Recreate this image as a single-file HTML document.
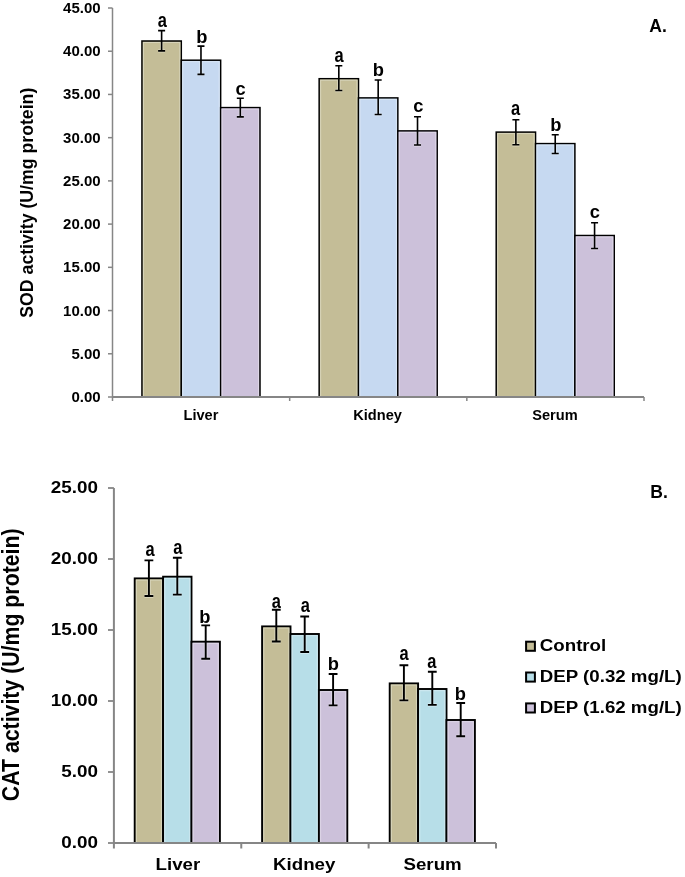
<!DOCTYPE html><html><head><meta charset="utf-8"><title>SOD and CAT activity</title><style>html,body{margin:0;padding:0;background:#fff;width:685px;height:877px;overflow:hidden}svg{display:block;will-change:transform}text{font-family:"Liberation Sans",sans-serif;font-weight:bold;fill:#000}</style></head><body>
<svg width="685" height="877" viewBox="0 0 685 877">
<rect width="685" height="877" fill="#fff"/>
<line x1="108" y1="397.00" x2="112.5" y2="397.00" stroke="#868686" stroke-width="1.5"/>
<text x="100.6" y="402.00" font-size="15" text-anchor="end">0.00</text>
<line x1="108" y1="353.78" x2="112.5" y2="353.78" stroke="#868686" stroke-width="1.5"/>
<text x="100.6" y="358.78" font-size="15" text-anchor="end">5.00</text>
<line x1="108" y1="310.56" x2="112.5" y2="310.56" stroke="#868686" stroke-width="1.5"/>
<text x="100.6" y="315.56" font-size="15" text-anchor="end">10.00</text>
<line x1="108" y1="267.33" x2="112.5" y2="267.33" stroke="#868686" stroke-width="1.5"/>
<text x="100.6" y="272.33" font-size="15" text-anchor="end">15.00</text>
<line x1="108" y1="224.11" x2="112.5" y2="224.11" stroke="#868686" stroke-width="1.5"/>
<text x="100.6" y="229.11" font-size="15" text-anchor="end">20.00</text>
<line x1="108" y1="180.89" x2="112.5" y2="180.89" stroke="#868686" stroke-width="1.5"/>
<text x="100.6" y="185.89" font-size="15" text-anchor="end">25.00</text>
<line x1="108" y1="137.67" x2="112.5" y2="137.67" stroke="#868686" stroke-width="1.5"/>
<text x="100.6" y="142.67" font-size="15" text-anchor="end">30.00</text>
<line x1="108" y1="94.44" x2="112.5" y2="94.44" stroke="#868686" stroke-width="1.5"/>
<text x="100.6" y="99.44" font-size="15" text-anchor="end">35.00</text>
<line x1="108" y1="51.22" x2="112.5" y2="51.22" stroke="#868686" stroke-width="1.5"/>
<text x="100.6" y="56.22" font-size="15" text-anchor="end">40.00</text>
<line x1="108" y1="8.00" x2="112.5" y2="8.00" stroke="#868686" stroke-width="1.5"/>
<text x="100.6" y="13.00" font-size="15" text-anchor="end">45.00</text>
<rect x="141.95" y="41.00" width="39.35" height="356.00" fill="#C4BD97" stroke="#000" stroke-width="1.5"/>
<rect x="143.45" y="42.50" width="36.35" height="354.50" fill="none" stroke="#D8D4BB" stroke-width="1"/>
<rect x="181.30" y="60.20" width="39.35" height="336.80" fill="#C6D9F1" stroke="#000" stroke-width="1.5"/>
<rect x="182.80" y="61.70" width="36.35" height="335.30" fill="none" stroke="#D9E6F5" stroke-width="1"/>
<rect x="220.65" y="107.60" width="39.35" height="289.40" fill="#CCC1DA" stroke="#000" stroke-width="1.5"/>
<rect x="222.15" y="109.10" width="36.35" height="287.90" fill="none" stroke="#DDD6E6" stroke-width="1"/>
<rect x="319.15" y="78.70" width="39.35" height="318.30" fill="#C4BD97" stroke="#000" stroke-width="1.5"/>
<rect x="320.65" y="80.20" width="36.35" height="316.80" fill="none" stroke="#D8D4BB" stroke-width="1"/>
<rect x="358.50" y="97.90" width="39.35" height="299.10" fill="#C6D9F1" stroke="#000" stroke-width="1.5"/>
<rect x="360.00" y="99.40" width="36.35" height="297.60" fill="none" stroke="#D9E6F5" stroke-width="1"/>
<rect x="397.85" y="130.90" width="39.35" height="266.10" fill="#CCC1DA" stroke="#000" stroke-width="1.5"/>
<rect x="399.35" y="132.40" width="36.35" height="264.60" fill="none" stroke="#DDD6E6" stroke-width="1"/>
<rect x="496.20" y="132.10" width="39.35" height="264.90" fill="#C4BD97" stroke="#000" stroke-width="1.5"/>
<rect x="497.70" y="133.60" width="36.35" height="263.40" fill="none" stroke="#D8D4BB" stroke-width="1"/>
<rect x="535.55" y="143.60" width="39.35" height="253.40" fill="#C6D9F1" stroke="#000" stroke-width="1.5"/>
<rect x="537.05" y="145.10" width="36.35" height="251.90" fill="none" stroke="#D9E6F5" stroke-width="1"/>
<rect x="574.90" y="235.50" width="39.35" height="161.50" fill="#CCC1DA" stroke="#000" stroke-width="1.5"/>
<rect x="576.40" y="237.00" width="36.35" height="160.00" fill="none" stroke="#DDD6E6" stroke-width="1"/>
<path d="M161.62 42.50V50.90M158.12 50.90H165.12" stroke="#D8D4BB" stroke-width="3.4" fill="none"/>
<path d="M161.62 30.60V50.90M158.12 30.60H165.12M158.12 50.90H165.12" stroke="#000" stroke-width="1.6" fill="none"/>
<path d="M200.97 61.70V74.40M197.47 74.40H204.47" stroke="#D9E6F5" stroke-width="3.4" fill="none"/>
<path d="M200.97 46.10V74.40M197.47 46.10H204.47M197.47 74.40H204.47" stroke="#000" stroke-width="1.6" fill="none"/>
<path d="M240.32 109.10V116.90M236.82 116.90H243.82" stroke="#DDD6E6" stroke-width="3.4" fill="none"/>
<path d="M240.32 98.20V116.90M236.82 98.20H243.82M236.82 116.90H243.82" stroke="#000" stroke-width="1.6" fill="none"/>
<path d="M338.82 80.20V90.50M335.32 90.50H342.32" stroke="#D8D4BB" stroke-width="3.4" fill="none"/>
<path d="M338.82 65.80V90.50M335.32 65.80H342.32M335.32 90.50H342.32" stroke="#000" stroke-width="1.6" fill="none"/>
<path d="M378.18 99.40V114.50M374.68 114.50H381.68" stroke="#D9E6F5" stroke-width="3.4" fill="none"/>
<path d="M378.18 80.00V114.50M374.68 80.00H381.68M374.68 114.50H381.68" stroke="#000" stroke-width="1.6" fill="none"/>
<path d="M417.52 132.40V145.00M414.02 145.00H421.02" stroke="#DDD6E6" stroke-width="3.4" fill="none"/>
<path d="M417.52 116.70V145.00M414.02 116.70H421.02M414.02 145.00H421.02" stroke="#000" stroke-width="1.6" fill="none"/>
<path d="M515.88 133.60V144.70M512.38 144.70H519.38" stroke="#D8D4BB" stroke-width="3.4" fill="none"/>
<path d="M515.88 119.70V144.70M512.38 119.70H519.38M512.38 144.70H519.38" stroke="#000" stroke-width="1.6" fill="none"/>
<path d="M555.22 145.10V153.50M551.72 153.50H558.72" stroke="#D9E6F5" stroke-width="3.4" fill="none"/>
<path d="M555.22 134.70V153.50M551.72 134.70H558.72M551.72 153.50H558.72" stroke="#000" stroke-width="1.6" fill="none"/>
<path d="M594.57 237.00V248.50M591.07 248.50H598.07" stroke="#DDD6E6" stroke-width="3.4" fill="none"/>
<path d="M594.57 222.80V248.50M591.07 222.80H598.07M591.07 248.50H598.07" stroke="#000" stroke-width="1.6" fill="none"/>
<path d="M112.5 8V401" stroke="#868686" stroke-width="1.5" fill="none"/>
<path d="M112.5 397H644" stroke="#868686" stroke-width="1.8" fill="none"/>
<line x1="289.67" y1="397" x2="289.67" y2="401" stroke="#868686" stroke-width="1.5"/>
<line x1="466.83" y1="397" x2="466.83" y2="401" stroke="#868686" stroke-width="1.5"/>
<line x1="644.00" y1="397" x2="644.00" y2="401" stroke="#868686" stroke-width="1.5"/>
<text x="200.97" y="419.5" font-size="14.6" text-anchor="middle">Liver</text>
<text x="377.57" y="419.5" font-size="14.6" text-anchor="middle">Kidney</text>
<text x="554.93" y="419.5" font-size="14.6" text-anchor="middle">Serum</text>
<text x="649.3" y="31.6" font-size="17.5">A.</text>
<text transform="translate(32.7 202.7) rotate(-90)" font-size="17.7" text-anchor="middle">SOD activity (U/mg protein)</text>
<line x1="108" y1="843.00" x2="113.9" y2="843.00" stroke="#868686" stroke-width="1.8"/>
<text transform="translate(97.9 848.00) scale(1.11 1)" font-size="17" text-anchor="end">0.00</text>
<line x1="108" y1="772.00" x2="113.9" y2="772.00" stroke="#868686" stroke-width="1.8"/>
<text transform="translate(97.9 777.00) scale(1.11 1)" font-size="17" text-anchor="end">5.00</text>
<line x1="108" y1="701.00" x2="113.9" y2="701.00" stroke="#868686" stroke-width="1.8"/>
<text transform="translate(97.9 706.00) scale(1.11 1)" font-size="17" text-anchor="end">10.00</text>
<line x1="108" y1="630.00" x2="113.9" y2="630.00" stroke="#868686" stroke-width="1.8"/>
<text transform="translate(97.9 635.00) scale(1.11 1)" font-size="17" text-anchor="end">15.00</text>
<line x1="108" y1="559.00" x2="113.9" y2="559.00" stroke="#868686" stroke-width="1.8"/>
<text transform="translate(97.9 564.00) scale(1.11 1)" font-size="17" text-anchor="end">20.00</text>
<line x1="108" y1="488.00" x2="113.9" y2="488.00" stroke="#868686" stroke-width="1.8"/>
<text transform="translate(97.9 493.00) scale(1.11 1)" font-size="17" text-anchor="end">25.00</text>
<rect x="134.70" y="578.40" width="28.40" height="264.60" fill="#C4BD97" stroke="#000" stroke-width="1.9"/>
<rect x="136.40" y="580.10" width="25.00" height="262.90" fill="none" stroke="#D8D4BB" stroke-width="1"/>
<rect x="163.10" y="576.70" width="28.40" height="266.30" fill="#B7DEE8" stroke="#000" stroke-width="1.9"/>
<rect x="164.80" y="578.40" width="25.00" height="264.60" fill="none" stroke="#D0E9F0" stroke-width="1"/>
<rect x="191.50" y="641.70" width="28.40" height="201.30" fill="#CCC1DA" stroke="#000" stroke-width="1.9"/>
<rect x="193.20" y="643.40" width="25.00" height="199.60" fill="none" stroke="#DDD6E6" stroke-width="1"/>
<rect x="262.10" y="626.40" width="28.40" height="216.60" fill="#C4BD97" stroke="#000" stroke-width="1.9"/>
<rect x="263.80" y="628.10" width="25.00" height="214.90" fill="none" stroke="#D8D4BB" stroke-width="1"/>
<rect x="290.50" y="634.00" width="28.40" height="209.00" fill="#B7DEE8" stroke="#000" stroke-width="1.9"/>
<rect x="292.20" y="635.70" width="25.00" height="207.30" fill="none" stroke="#D0E9F0" stroke-width="1"/>
<rect x="318.90" y="690.00" width="28.40" height="153.00" fill="#CCC1DA" stroke="#000" stroke-width="1.9"/>
<rect x="320.60" y="691.70" width="25.00" height="151.30" fill="none" stroke="#DDD6E6" stroke-width="1"/>
<rect x="389.70" y="683.40" width="28.40" height="159.60" fill="#C4BD97" stroke="#000" stroke-width="1.9"/>
<rect x="391.40" y="685.10" width="25.00" height="157.90" fill="none" stroke="#D8D4BB" stroke-width="1"/>
<rect x="418.10" y="689.00" width="28.40" height="154.00" fill="#B7DEE8" stroke="#000" stroke-width="1.9"/>
<rect x="419.80" y="690.70" width="25.00" height="152.30" fill="none" stroke="#D0E9F0" stroke-width="1"/>
<rect x="446.50" y="720.00" width="28.40" height="123.00" fill="#CCC1DA" stroke="#000" stroke-width="1.9"/>
<rect x="448.20" y="721.70" width="25.00" height="121.30" fill="none" stroke="#DDD6E6" stroke-width="1"/>
<path d="M148.90 580.10V596.00M144.50 596.00H153.30" stroke="#D8D4BB" stroke-width="3.8" fill="none"/>
<path d="M148.90 560.40V596.00M144.50 560.40H153.30M144.50 596.00H153.30" stroke="#000" stroke-width="1.9" fill="none"/>
<path d="M177.30 578.40V594.60M172.90 594.60H181.70" stroke="#D0E9F0" stroke-width="3.8" fill="none"/>
<path d="M177.30 557.80V594.60M172.90 557.80H181.70M172.90 594.60H181.70" stroke="#000" stroke-width="1.9" fill="none"/>
<path d="M205.70 643.40V658.70M201.30 658.70H210.10" stroke="#DDD6E6" stroke-width="3.8" fill="none"/>
<path d="M205.70 625.40V658.70M201.30 625.40H210.10M201.30 658.70H210.10" stroke="#000" stroke-width="1.9" fill="none"/>
<path d="M276.30 628.10V641.50M271.90 641.50H280.70" stroke="#D8D4BB" stroke-width="3.8" fill="none"/>
<path d="M276.30 609.70V641.50M271.90 609.70H280.70M271.90 641.50H280.70" stroke="#000" stroke-width="1.9" fill="none"/>
<path d="M304.70 635.70V652.00M300.30 652.00H309.10" stroke="#D0E9F0" stroke-width="3.8" fill="none"/>
<path d="M304.70 616.50V652.00M300.30 616.50H309.10M300.30 652.00H309.10" stroke="#000" stroke-width="1.9" fill="none"/>
<path d="M333.10 691.70V705.40M328.70 705.40H337.50" stroke="#DDD6E6" stroke-width="3.8" fill="none"/>
<path d="M333.10 674.00V705.40M328.70 674.00H337.50M328.70 705.40H337.50" stroke="#000" stroke-width="1.9" fill="none"/>
<path d="M403.90 685.10V700.40M399.50 700.40H408.30" stroke="#D8D4BB" stroke-width="3.8" fill="none"/>
<path d="M403.90 665.30V700.40M399.50 665.30H408.30M399.50 700.40H408.30" stroke="#000" stroke-width="1.9" fill="none"/>
<path d="M432.30 690.70V704.90M427.90 704.90H436.70" stroke="#D0E9F0" stroke-width="3.8" fill="none"/>
<path d="M432.30 671.80V704.90M427.90 671.80H436.70M427.90 704.90H436.70" stroke="#000" stroke-width="1.9" fill="none"/>
<path d="M460.70 721.70V736.30M456.30 736.30H465.10" stroke="#DDD6E6" stroke-width="3.8" fill="none"/>
<path d="M460.70 703.00V736.30M456.30 703.00H465.10M456.30 736.30H465.10" stroke="#000" stroke-width="1.9" fill="none"/>
<path d="M113.9 488V848.5" stroke="#868686" stroke-width="2" fill="none"/>
<path d="M113.9 843H496" stroke="#868686" stroke-width="1.9" fill="none"/>
<line x1="241.27" y1="843" x2="241.27" y2="848.5" stroke="#868686" stroke-width="2"/>
<line x1="368.63" y1="843" x2="368.63" y2="848.5" stroke="#868686" stroke-width="2"/>
<line x1="496.00" y1="843" x2="496.00" y2="848.5" stroke="#868686" stroke-width="2"/>
<text transform="translate(177.90 869.80) scale(1.1 1)" font-size="17" text-anchor="middle">Liver</text>
<text transform="translate(304.20 869.80) scale(1.1 1)" font-size="17" text-anchor="middle">Kidney</text>
<text transform="translate(432.60 869.80) scale(1.1 1)" font-size="17" text-anchor="middle">Serum</text>
<text x="650.3" y="498.2" font-size="17.5">B.</text>
<rect x="526.1" y="641.70" width="8.8" height="9.1" fill="#C4BD97" stroke="#000" stroke-width="2"/>
<text transform="translate(539.80 651.30) scale(1.1 1)" font-size="17" text-anchor="start">Control</text>
<rect x="526.1" y="672.50" width="8.8" height="9.1" fill="#B7DEE8" stroke="#000" stroke-width="2"/>
<text transform="translate(539.80 682.40) scale(1.1 1)" font-size="17" text-anchor="start">DEP (0.32 mg/L)</text>
<rect x="526.1" y="703.40" width="8.8" height="9.1" fill="#CCC1DA" stroke="#000" stroke-width="2"/>
<text transform="translate(539.80 712.60) scale(1.1 1)" font-size="17" text-anchor="start">DEP (1.62 mg/L)</text>
<text transform="translate(18.9 664.8) rotate(-90) scale(1 1.1)" font-size="21.3" text-anchor="middle">CAT activity (U/mg protein)</text>
<text transform="translate(162.26 26.67) scale(0.9 1.06)" font-size="18.3" text-anchor="middle">a</text>
<text x="201.92" y="42.84" font-size="18.3" text-anchor="middle">b</text>
<text x="240.66" y="94.78" font-size="18.3" text-anchor="middle">c</text>
<text transform="translate(338.96 61.72) scale(0.9 1.06)" font-size="18.3" text-anchor="middle">a</text>
<text x="378.27" y="76.04" font-size="18.3" text-anchor="middle">b</text>
<text x="418.31" y="112.33" font-size="18.3" text-anchor="middle">c</text>
<text transform="translate(515.66 114.82) scale(0.9 1.06)" font-size="18.3" text-anchor="middle">a</text>
<text x="555.82" y="130.94" font-size="18.3" text-anchor="middle">b</text>
<text x="594.76" y="217.73" font-size="18.3" text-anchor="middle">c</text>
<text transform="translate(150.06 556.32) scale(0.9 1.06)" font-size="18.3" text-anchor="middle">a</text>
<text transform="translate(177.71 554.07) scale(0.9 1.06)" font-size="18.3" text-anchor="middle">a</text>
<text x="204.72" y="622.84" font-size="18.3" text-anchor="middle">b</text>
<text transform="translate(276.26 607.52) scale(0.9 1.06)" font-size="18.3" text-anchor="middle">a</text>
<text transform="translate(305.41 611.82) scale(0.9 1.06)" font-size="18.3" text-anchor="middle">a</text>
<text x="333.22" y="669.79" font-size="18.3" text-anchor="middle">b</text>
<text transform="translate(404.06 659.92) scale(0.9 1.06)" font-size="18.3" text-anchor="middle">a</text>
<text transform="translate(431.86 668.02) scale(0.9 1.06)" font-size="18.3" text-anchor="middle">a</text>
<text x="460.27" y="699.69" font-size="18.3" text-anchor="middle">b</text>
</svg></body></html>
